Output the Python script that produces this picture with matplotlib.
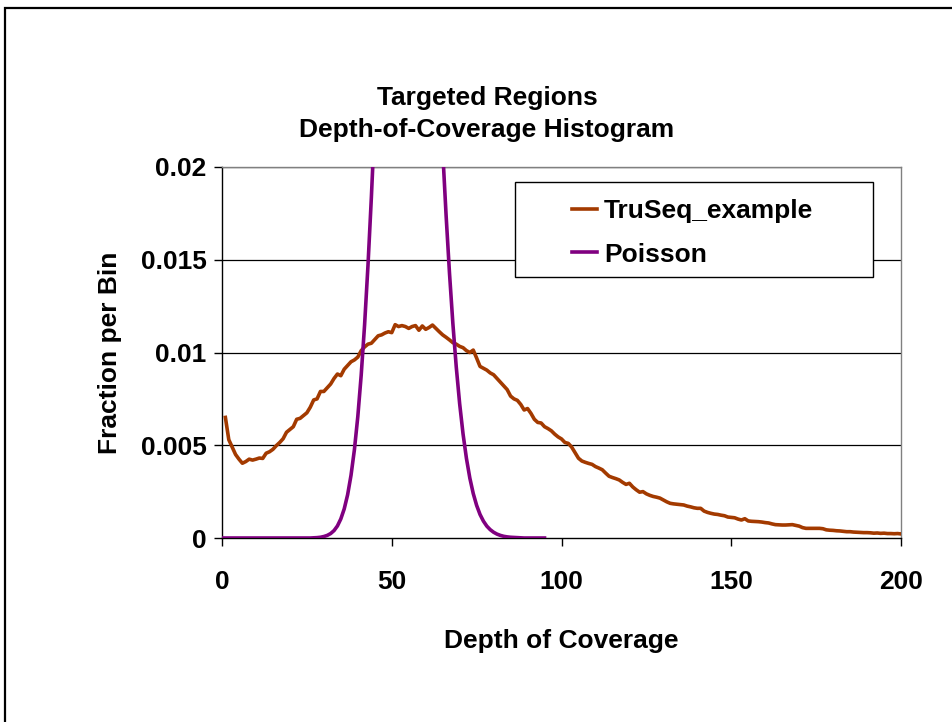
"""Targeted regions depth-of-coverage histogram."""

import matplotlib

matplotlib.use("Agg")
import matplotlib.pyplot as plt
from matplotlib.patches import Rectangle
import numpy as np

plt.rcParams["font.family"] = ["Liberation Sans", "DejaVu Sans"]
plt.rcParams["font.weight"] = "bold"

# TruSeq_example, fraction per bin in thousandths, depth 1..200
truseq_depth = np.arange(1, 201)
truseq_permille = [
    6.5, 5.3, 4.9, 4.5, 4.25, 4.03, 4.12, 4.25, 4.2, 4.25,
    4.31, 4.29, 4.57, 4.65, 4.78, 4.98, 5.15, 5.35, 5.7, 5.85,
    6.0, 6.4, 6.45, 6.6, 6.75, 7.05, 7.44, 7.5, 7.9, 7.9,
    8.1, 8.3, 8.6, 8.84, 8.75, 9.1, 9.3, 9.5, 9.6, 9.75,
    10.1, 10.3, 10.45, 10.5, 10.7, 10.9, 10.95, 11.05, 11.12, 11.07,
    11.5, 11.4, 11.45, 11.4, 11.3, 11.4, 11.45, 11.2, 11.43, 11.25,
    11.35, 11.48, 11.3, 11.12, 10.95, 10.82, 10.68, 10.53, 10.45, 10.33,
    10.26, 10.1, 10.0, 10.13, 9.7, 9.25, 9.15, 9.05, 8.9, 8.8,
    8.6, 8.4, 8.2, 8.0, 7.65, 7.5, 7.42, 7.2, 6.9, 6.98,
    6.72, 6.4, 6.23, 6.2, 6.0, 5.9, 5.78, 5.6, 5.45, 5.34,
    5.15, 5.1, 4.9, 4.6, 4.3, 4.15, 4.08, 4.02, 3.97, 3.85,
    3.77, 3.68, 3.5, 3.33, 3.26, 3.2, 3.13, 3.0, 2.89, 2.95,
    2.75, 2.6, 2.47, 2.5, 2.38, 2.3, 2.24, 2.2, 2.15, 2.05,
    1.95, 1.87, 1.84, 1.82, 1.8, 1.78, 1.72, 1.68, 1.63, 1.6,
    1.6, 1.45, 1.38, 1.33, 1.29, 1.27, 1.23, 1.2, 1.13, 1.11,
    1.09, 1.02, 0.97, 1.04, 0.92, 0.9, 0.89, 0.88, 0.86, 0.83,
    0.81, 0.76, 0.72, 0.71, 0.7, 0.7, 0.71, 0.72, 0.68, 0.64,
    0.56, 0.52, 0.52, 0.52, 0.52, 0.52, 0.5, 0.44, 0.42, 0.41,
    0.39, 0.38, 0.36, 0.34, 0.34, 0.32, 0.31, 0.3, 0.29, 0.29,
    0.28, 0.26, 0.27, 0.25, 0.26, 0.24, 0.24, 0.23, 0.24, 0.22,
]

# Poisson reference, depth 0..95
poisson_depth = np.arange(0, 96)
poisson_frac = [
    0, 0, 0, 0, 0, 0, 0, 0, 0, 0,
    0, 0, 0, 0, 0, 0, 0, 0, 0, 0,
    0, 0, 0, 0, 0, 0, 0, 0.00001, 0.00002, 0.00004,
    0.00008, 0.00014, 0.00024, 0.00040, 0.00065, 0.00103, 0.00157, 0.00233, 0.00338, 0.00476,
    0.00654, 0.00878, 0.01149, 0.01470, 0.01838, 0.02246, 0.02686, 0.03143, 0.03601, 0.04042,
    0.04446, 0.04795, 0.05072, 0.05263, 0.0536, 0.0536, 0.05264, 0.05080, 0.04817, 0.04490,
    0.04116, 0.03711, 0.03292, 0.02874, 0.02470, 0.02090, 0.01742, 0.01430, 0.01157, 0.00922,
    0.00724, 0.00561, 0.00429, 0.00323, 0.00240, 0.00176, 0.00127, 0.00091, 0.00064, 0.00045,
    0.00031, 0.00021, 0.00014, 0.00009, 0.00006, 0.00004, 0.00003, 0.00002, 0.00001, 0,
    0, 0, 0, 0, 0, 0,
]

x_ticks = [0, 50, 100, 150, 200]
y_ticks = [0, 0.005, 0.01, 0.015, 0.02]
y_tick_labels = ["0", "0.005", "0.01", "0.015", "0.02"]

W, H = 952, 722
fig = plt.figure(figsize=(W / 100, H / 100), dpi=100)
ax = fig.add_axes([222 / W, 1 - 538 / H, (901 - 222) / W, (538 - 167) / H])

# outer chart border (left and top visible)
fig.patches.append(Rectangle((4.5 / W, -0.05), 1.1, 1.05 - 8 / H, transform=fig.transFigure,
                             fill=False, edgecolor="black", linewidth=1.6))

for y in y_ticks[1:]:
    ax.axhline(y, color="black", linewidth=0.9, zorder=1)

ax.plot(truseq_depth, np.asarray(truseq_permille) * 1e-3, color="#a33a00", linewidth=2.6,
        label="TruSeq_example", zorder=4)
ax.plot(poisson_depth, poisson_frac, color="#800080", linewidth=2.6, label="Poisson", zorder=4)

ax.set_xlim(0, 200)
ax.set_ylim(0, 0.02)
ax.set_xticks(x_ticks)
ax.set_yticks(y_ticks)
ax.set_yticklabels(y_tick_labels)
ax.tick_params(axis="both", direction="out", length=6, width=1, labelsize=19, color="black")
ax.tick_params(axis="x", pad=17)
ax.tick_params(axis="y", pad=5)
for side in ("left", "bottom"):
    ax.spines[side].set_color("black")
    ax.spines[side].set_linewidth(1)
for side in ("top", "right"):
    ax.spines[side].set_color("#808080")
    ax.spines[side].set_linewidth(1)

ax.set_xlabel("Depth of Coverage", fontsize=19, fontweight="bold")
ax.set_ylabel("Fraction per Bin", fontsize=19, fontweight="bold")
ax.xaxis.set_label_coords(0.5, -0.245)
ax.yaxis.set_label_coords(-0.148, 0.5)

fig.text(487 / W, 1 - 114 / H, "Targeted Regions\nDepth-of-Coverage Histogram", ha="center",
         va="center", fontsize=19, fontweight="bold", linespacing=1.38)

# legend box
ax.add_patch(Rectangle((0.4315, 0.7035), 0.9588 - 0.4315, 0.9596 - 0.7035, transform=ax.transAxes,
                       facecolor="white", edgecolor="black", linewidth=1, zorder=3))
ax.legend(loc="upper left", bbox_to_anchor=(0.516, 0.914), frameon=False, fontsize=19,
          handlelength=0.95, handletextpad=0.25, labelspacing=0.75, borderpad=0, borderaxespad=0)

fig.savefig("out.png", dpi=100)
plt.close(fig)
